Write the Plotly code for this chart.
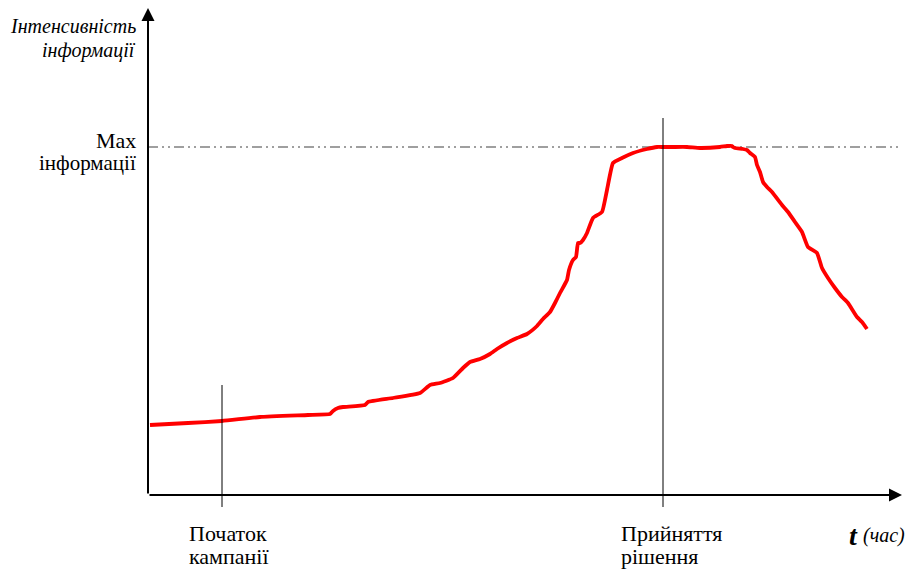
import plotly.graph_objects as go

# Time (arbitrary units, from start of axis) and information intensity (arbitrary units)
time = [2, 40, 74, 112, 160, 182, 185, 190, 195, 217, 220, 245, 272, 282, 292, 305,
        315, 322, 332, 342, 349, 359, 369, 379, 389, 395, 402, 407, 412, 419, 421,
        425, 428, 430, 432, 435, 439, 445, 454, 459, 465, 474, 485, 499, 509, 515,
        525, 539, 552, 572, 579, 584, 585, 587, 595, 599, 602, 607, 609, 612, 615,
        619, 624, 634, 640, 647, 654, 660, 669, 674, 680, 687, 694, 700, 709, 714, 719]
intensity = [70, 72, 74, 78, 80, 81, 84, 87, 88, 90, 93, 97, 102, 110, 112, 117,
             127, 133, 136, 141, 146, 152, 157, 161, 169, 176, 183, 192, 202, 215, 225,
             235, 238, 252, 252, 255, 262, 277, 283, 305, 332, 337, 342, 346, 348, 348,
             348, 348, 347, 348, 349, 349, 348, 347, 346, 345, 342, 338, 330, 323, 313,
             308, 303, 290, 283, 273, 263, 248, 242, 227, 217, 207, 198, 192, 178, 173, 166]

max_level = 348
campaign_start = 74
decision = 515

fig = go.Figure()

fig.add_trace(go.Scatter(
    x=time, y=intensity, mode="lines",
    line=dict(color="#ff0000", width=3.8, shape="spline", smoothing=0.4),
    hoverinfo="skip", showlegend=False))

# Max information dash-dot line
fig.add_shape(type="line", x0=0, x1=752, y0=max_level, y1=max_level,
              line=dict(color="#808080", width=1.5, dash="10px,4px,2px,4px,2px,4px"),
              layer="below")

# Event vertical lines
fig.add_shape(type="line", x0=campaign_start, x1=campaign_start, y0=-12, y1=110,
              line=dict(color="black", width=1))
fig.add_shape(type="line", x0=decision, x1=decision, y0=-12, y1=377,
              line=dict(color="black", width=1))

# Axes with arrows
fig.add_annotation(x=0, y=487, ax=0, ay=0, xref="x", yref="y", axref="x", ayref="y",
                   text="", showarrow=True, arrowhead=2, arrowsize=1.3, arrowwidth=2,
                   arrowcolor="black")
fig.add_annotation(x=754, y=0, ax=0, ay=0, xref="x", yref="y", axref="x", ayref="y",
                   text="", showarrow=True, arrowhead=2, arrowsize=1.3, arrowwidth=2,
                   arrowcolor="black")

serif = "Liberation Serif, Noto Serif, DejaVu Serif, serif"


def label(x, y, text, anchor, size=21, italic=False, bold=False):
    fig.add_annotation(x=x, y=y, xref="x", yref="y", text=text, showarrow=False,
                       xanchor=anchor, yanchor="middle",
                       font=dict(family=serif, size=size, color="black",
                                 style="italic" if italic else "normal",
                                 weight="bold" if bold else "normal"))


label(-10, 469, "Інтенсивність", "right", size=20, italic=True)
label(-10, 445, "інформації", "right", size=20, italic=True)
label(-10, 355, "Max", "right", size=22)
label(-10, 332, "інформації", "right", size=21)
label(39, -38, "Початок", "left", size=22)
label(39, -61, "кампанії", "left", size=22)
label(471, -38, "Прийняття", "left", size=22)
label(471, -61, "рішення", "left", size=22)
label(699, -40, "t", "left", size=28, italic=True, bold=True)
label(713, -40, "(час)", "left", size=20, italic=True)

fig.update_layout(
    width=913, height=569,
    margin=dict(l=0, r=0, t=0, b=0),
    paper_bgcolor="white", plot_bgcolor="white",
    xaxis=dict(range=[-140, 773], visible=False, fixedrange=True),
    yaxis=dict(range=[-82, 487], visible=False, fixedrange=True),
    showlegend=False)

fig.write_html("out.html")
